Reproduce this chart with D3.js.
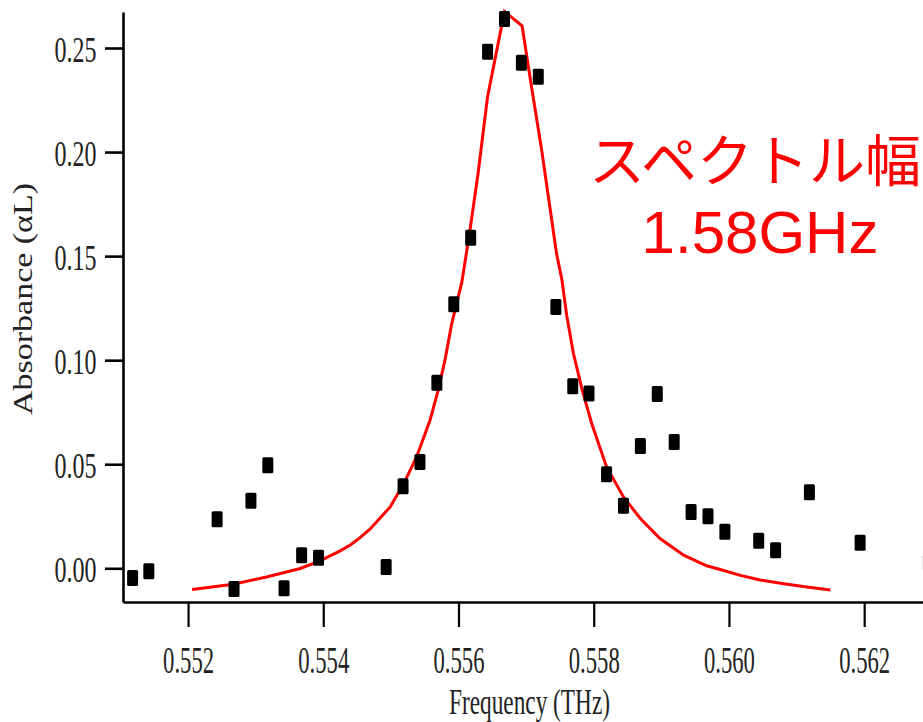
<!DOCTYPE html>
<html>
<head>
<meta charset="utf-8">
<script src="https://cdn.jsdelivr.net/npm/d3@7"></script>
<style>
  html, body { margin: 0; padding: 0; background: #fff; }
  svg { display: block; }
</style>
</head>
<body>
<svg id="chart" width="923" height="722"></svg>
<script>
// Measured absorbance spectrum (frequency in THz, absorbance αL)
const freq = [
  0.55118, 0.55142, 0.55243, 0.55268, 0.55293, 0.55318, 0.55342, 0.55368,
  0.55393, 0.55493, 0.55518, 0.55543, 0.55568, 0.55593, 0.55618, 0.55643,
  0.55668, 0.55693, 0.55718, 0.55744, 0.55769, 0.55793, 0.55819, 0.55844,
  0.55869, 0.55894, 0.55919, 0.55944, 0.55969, 0.55994, 0.56044, 0.56069,
  0.56119, 0.56194, 0.56295
];
const absorbance = [
  -0.0047, -0.0014, 0.0236, -0.0100, 0.0324, 0.0495, -0.0096, 0.0063,
  0.0051, 0.0006, 0.0394, 0.0511, 0.0891, 0.1269, 0.1588, 0.2482,
  0.2639, 0.2429, 0.2362, 0.1256, 0.0875, 0.0840, 0.0452, 0.0301,
  0.0588, 0.0837, 0.0607, 0.0271, 0.0250, 0.0175, 0.0132, 0.0087,
  0.0365, 0.0123, 0.0026
];

// Lorentzian fit curve, sampled points
const fitFreq = [
  0.55206, 0.55267, 0.55316, 0.55366, 0.55395, 0.55425, 0.55440, 0.55454,
  0.55469, 0.55499, 0.55519, 0.55538, 0.55558, 0.55570, 0.55580, 0.55590,
  0.55605, 0.55617, 0.55629, 0.55643, 0.55668, 0.55694, 0.55708, 0.55723,
  0.55745, 0.55753, 0.55760, 0.55770, 0.55783, 0.55797, 0.55819, 0.55844,
  0.55869, 0.55898, 0.55933, 0.55967, 0.55987, 0.56017, 0.56046, 0.56081,
  0.56115, 0.56150
];
const fitAbs = [
  -0.0102, -0.0077, -0.0042, -0.0001, 0.0036, 0.0084, 0.0112, 0.0146,
  0.0188, 0.0295, 0.0407, 0.0535, 0.0712, 0.0856, 0.1000, 0.1176,
  0.1376, 0.1625, 0.1898, 0.2266, 0.2675, 0.2607, 0.2314, 0.2010,
  0.1513, 0.1385, 0.1216, 0.1032, 0.0856, 0.0696, 0.0487, 0.0343,
  0.0239, 0.0143, 0.0063, 0.0012, -0.0006, -0.0034, -0.0056, -0.0074,
  -0.0090, -0.0104
];

const xTicks = [0.552, 0.554, 0.556, 0.558, 0.560, 0.562];
const yTicks = [0.00, 0.05, 0.10, 0.15, 0.20, 0.25];

const xTitle = "Frequency (THz)";
const yTitle = "Absorbance (αL)";
const noteLines = ["スペクトル幅", "1.58GHz"];

const svg = d3.select("#chart");

const plot = { left: 123, right: 923, top: 12, bottom: 602 };

const x = d3.scaleLinear().domain([0.551038, 0.56287]).range([plot.left, plot.right]);
const y = d3.scaleLinear().domain([-0.0162, 0.2673]).range([plot.bottom, plot.top]);

const serif = "'Liberation Serif', 'Times New Roman', serif";
const textColor = "#222";

// X axis
const gx = svg.append("g")
  .attr("transform", `translate(0,${plot.bottom})`)
  .call(d3.axisBottom(x).tickValues(xTicks).tickFormat(d3.format(".3f"))
    .tickSize(25).tickSizeOuter(0));
gx.select(".domain").attr("stroke", "#000").attr("stroke-width", 2.6);
gx.selectAll(".tick line").attr("stroke", "#000").attr("stroke-width", 2.2);
gx.selectAll(".tick text")
  .attr("y", 71).attr("dy", 0)
  .attr("fill", textColor)
  .style("font-family", serif).style("font-size", "37px")
  .attr("textLength", 51).attr("lengthAdjust", "spacingAndGlyphs");

// Y axis
const gy = svg.append("g")
  .attr("transform", `translate(${plot.left},0)`)
  .call(d3.axisLeft(y).tickValues(yTicks).tickFormat(d3.format(".2f"))
    .tickSize(18).tickSizeOuter(0));
gy.select(".domain").attr("stroke", "#000").attr("stroke-width", 2.6);
gy.selectAll(".tick line").attr("stroke", "#000").attr("stroke-width", 2.6);
gy.selectAll(".tick text")
  .attr("x", -26.5).attr("dy", 0).attr("y", 13.5)
  .attr("fill", textColor)
  .style("font-family", serif).style("font-size", "36px")
  .attr("textLength", 42).attr("lengthAdjust", "spacingAndGlyphs");

// Axis titles
svg.append("text")
  .attr("x", 529.5).attr("y", 714)
  .attr("text-anchor", "middle")
  .attr("fill", textColor)
  .style("font-family", serif).style("font-size", "35px")
  .attr("textLength", 161).attr("lengthAdjust", "spacingAndGlyphs")
  .text(xTitle);

svg.append("text")
  .attr("transform", "translate(32,299) rotate(-90)")
  .attr("text-anchor", "middle")
  .attr("fill", textColor)
  .style("font-family", serif).style("font-size", "28px")
  .attr("textLength", 232).attr("lengthAdjust", "spacingAndGlyphs")
  .text(yTitle);

// Fit curve
const line = d3.line().x((d, i) => x(fitFreq[i])).y(d => y(d));
svg.append("path")
  .datum(fitAbs)
  .attr("d", line)
  .attr("fill", "none")
  .attr("stroke", "#ff0000")
  .attr("stroke-width", 3)
  .attr("stroke-linejoin", "miter");

// Measured points
const mw = 11, mh = 16;
svg.append("g")
  .selectAll("rect")
  .data(absorbance)
  .join("rect")
  .attr("x", (d, i) => x(freq[i]) - mw / 2)
  .attr("y", d => y(d) - mh / 2)
  .attr("width", mw).attr("height", mh)
  .attr("rx", 1.5)
  .attr("fill", "#000");

// Linewidth annotation
svg.append("text")
  .attr("x", 755).attr("y", 181)
  .attr("text-anchor", "middle")
  .attr("fill", "#ff0000")
  .style("font-family", "'Noto Sans CJK JP', sans-serif").style("font-size", "56px")
  .text(noteLines[0]);
svg.append("text")
  .attr("x", 760).attr("y", 253)
  .attr("text-anchor", "middle")
  .attr("fill", "#ff0000")
  .style("font-family", "'Liberation Sans', Arial, sans-serif").style("font-size", "60px")
  .text(noteLines[1]);
</script>
</body>
</html>
